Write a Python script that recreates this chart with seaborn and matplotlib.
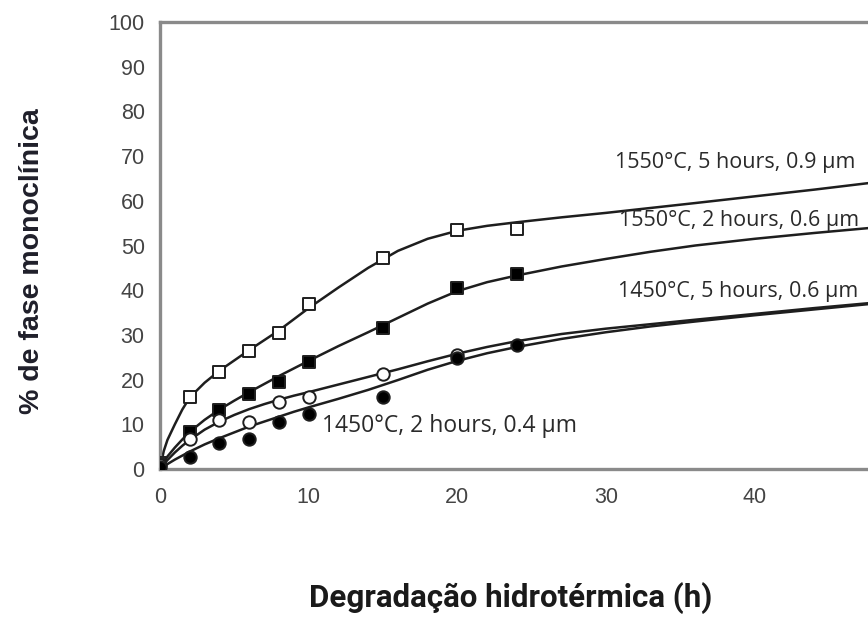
import matplotlib
matplotlib.use("Agg")
import matplotlib.pyplot as plt
import seaborn as sns
import pandas as pd

# ---- data ----
series_labels = ["1550°C, 5 hours, 0.9 µm", "1550°C, 2 hours, 0.6 µm",
                 "1450°C, 5 hours, 0.6 µm", "1450°C, 2 hours, 0.4 µm"]

meas_x = [0, 2, 4, 6, 8, 10, 15, 20, 24]
meas_s1 = [1.4, 16.0, 21.8, 26.4, 30.4, 37.0, 47.2, 53.4, 53.8]   # open squares
meas_s2 = [1.0, 8.2, 13.2, 16.8, 19.4, 24.0, 31.6, 40.6, 43.6]    # filled squares
meas_s3_x = [0, 2, 4, 6, 8, 10, 15, 20]
meas_s3 = [1.0, 6.6, 11.0, 10.6, 15.0, 16.0, 21.2, 25.6]          # open circles
meas_s4 = [0.5, 2.6, 5.8, 6.6, 10.6, 12.2, 16.0, 24.8, 27.8]      # filled circles

# fitted curves
fit_x = [0, 0.25, 0.5, 1, 1.5, 2, 3, 4, 5, 6, 7, 8, 9, 10, 12, 14, 16, 18, 20,
         22, 24, 27, 30, 33, 36, 40, 44, 48, 50]
fit_s1 = [0, 4.0, 6.5, 10.0, 13.3, 16.0, 19.3, 22.0, 24.3, 26.6, 28.8, 31.0, 33.5, 36.0,
          40.6, 45.0, 48.8, 51.5, 53.3, 54.4, 55.2, 56.3, 57.3, 58.4, 59.5, 61.0, 62.5, 64.1, 64.9]
fit_s2 = [0, 1.5, 2.8, 4.8, 6.6, 8.3, 11.0, 13.3, 15.3, 17.2, 19.0, 20.8, 22.5, 24.2,
          27.5, 30.6, 33.8, 37.0, 39.8, 41.8, 43.3, 45.3, 47.0, 48.6, 50.0, 51.5, 52.8, 54.0, 54.5]
fit_s3 = [0, 1.0, 2.0, 3.7, 5.2, 6.5, 8.8, 10.6, 12.1, 13.4, 14.5, 15.5, 16.4, 17.2,
          18.9, 20.6, 22.3, 24.1, 25.8, 27.3, 28.6, 30.2, 31.4, 32.4, 33.4, 34.7, 36.0, 37.2, 37.7]
fit_s4 = [0, 0.5, 1.1, 2.1, 3.0, 3.9, 5.5, 6.9, 8.2, 9.5, 10.6, 11.7, 12.8, 13.8,
          15.7, 17.7, 19.9, 22.2, 24.2, 25.9, 27.3, 29.1, 30.6, 31.9, 33.0, 34.4, 35.7, 37.0, 37.5]

x_ticks = [0, 10, 20, 30, 40]
y_ticks = [0, 10, 20, 30, 40, 50, 60, 70, 80, 90, 100]

fits = pd.DataFrame({
    "x": fit_x * 4,
    "y": fit_s1 + fit_s2 + fit_s3 + fit_s4,
    "serie": sum([[s] * len(fit_x) for s in series_labels], []),
})

sns.set_style("white")
fig = plt.figure(figsize=(8.68, 6.21), dpi=100)
ax = fig.add_axes([160 / 868, (621 - 469) / 621, 50 * 14.87 / 868, 447 / 621])

sns.lineplot(data=fits, x="x", y="y", units="serie", estimator=None,
             color="#1e1e1e", linewidth=1.8, ax=ax, legend=False)

mk = dict(s=80, linewidth=1.4, edgecolor="#1e1e1e", zorder=5, legend=False)
sns.scatterplot(x=meas_x, y=meas_s1, marker="s", facecolor="white", ax=ax, **mk)
sns.scatterplot(x=meas_x, y=meas_s2, marker="s", color="black", ax=ax, **mk)
sns.scatterplot(x=meas_s3_x, y=meas_s3, marker="o", facecolor="white", ax=ax, **mk)
sns.scatterplot(x=meas_x, y=meas_s4, marker="o", color="black", ax=ax, **mk)

ax.set_xlim(0, 50)
ax.set_ylim(0, 100)
ax.set_xticks(x_ticks)
ax.set_yticks(y_ticks)
ax.tick_params(axis="both", which="major", direction="out", length=4, width=1.2,
               color="#777777", labelcolor="#444444", labelsize=15.5)
ax.tick_params(axis="y", pad=7)
ax.tick_params(axis="x", pad=9)
for lab in ax.get_xticklabels() + ax.get_yticklabels():
    lab.set_family("Liberation Sans")

for side in ["left", "bottom", "top", "right"]:
    ax.spines[side].set_color("#8a8a8a")
    ax.spines[side].set_linewidth(2.4)

lab_font = dict(family="Open Sans", fontsize=15.5, color="#2a2a2a", ha="left", va="center")
ax.text(30.6, 68.5, series_labels[0], **lab_font)
ax.text(30.9, 55.5, series_labels[1], **lab_font)
ax.text(30.8, 39.8, series_labels[2], **lab_font)
ax.text(10.9, 9.6, series_labels[3], fontsize=16.5,
        **{k: v for k, v in lab_font.items() if k != "fontsize"})

ax.set_xlabel("")
ax.set_ylabel("")
fig.text(32 / 868, 1 - 261 / 621, "% de fase monoclínica", rotation=90,
         ha="center", va="center", fontsize=20.5, fontweight="bold",
         family="Liberation Sans", color="#1f1f2a")
fig.text(511 / 868, 1 - 598 / 621, "Degradação hidrotérmica (h)",
         ha="center", va="center", fontsize=22.5, fontweight="bold",
         family="Roboto", color="#1a1a1a")

fig.savefig("out.png", dpi=100)
